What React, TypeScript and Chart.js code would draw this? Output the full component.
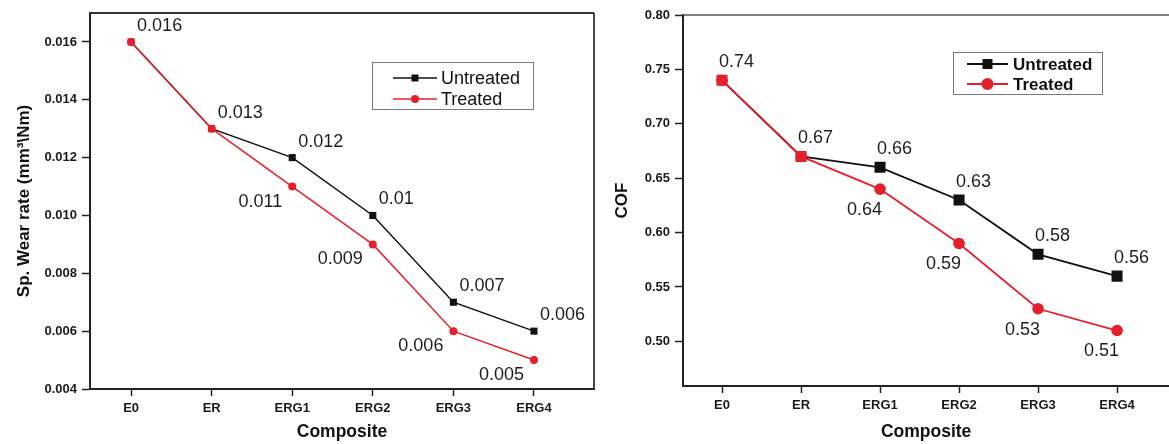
import React, { useEffect, useRef } from "react";
import { Chart, registerables } from "chart.js";

Chart.register(...registerables);

// ---------- data ----------
const categories = ["E0", "ER", "ERG1", "ERG2", "ERG3", "ERG4"];
const seriesNames = ["Untreated", "Treated"];

const wearUntreated = [0.016, 0.013, 0.012, 0.01, 0.007, 0.006];
const wearTreated = [0.016, 0.013, 0.011, 0.009, 0.006, 0.005];
const wearTicks = [0.004, 0.006, 0.008, 0.01, 0.012, 0.014, 0.016];

const cofUntreated = [0.74, 0.67, 0.66, 0.63, 0.58, 0.56];
const cofTreated = [0.74, 0.67, 0.64, 0.59, 0.53, 0.51];
const cofTicks = [0.5, 0.55, 0.6, 0.65, 0.7, 0.75, 0.8];

// which points carry a value label
const untreatedLabelIdx = [0, 1, 2, 3, 4, 5];
const treatedLabelIdx = [2, 3, 4, 5];

// ---------- styles ----------
const FONT = "'Liberation Sans', Arial, Helvetica, sans-serif";
const RED = "#e3202b";
const BLACK = "#111111";

const decorPlugin = {
  id: "decor",
  beforeDatasetsDraw(chart: any, _args: any, opts: any) {
    const { ctx, chartArea: a } = chart;
    ctx.save();
    ctx.strokeStyle = opts.frameColor;
    ctx.lineWidth = opts.frameWidth;
    ctx.beginPath();
    if (opts.sides.includes("top")) {
      ctx.moveTo(a.left, a.top);
      ctx.lineTo(a.right, a.top);
    }
    if (opts.sides.includes("right")) {
      ctx.moveTo(a.right, a.top);
      ctx.lineTo(a.right, a.bottom);
    }
    ctx.stroke();
    ctx.restore();
  },
  afterDatasetsDraw(chart: any, _args: any, opts: any) {
    const { ctx } = chart;
    ctx.save();
    // value labels
    ctx.font = opts.labelFont;
    ctx.fillStyle = "#1e1e1e";
    ctx.textBaseline = "middle";
    opts.labels.forEach((l: any) => {
      const meta = chart.getDatasetMeta(l.dataset);
      const ds = chart.data.datasets[l.dataset];
      l.indices.forEach((i: number) => {
        const p = meta.data[i];
        ctx.textAlign = l.align;
        ctx.fillText(String(ds.data[i].y), p.x + l.dx, p.y + l.dy);
      });
    });
    // legend
    const lg = opts.legend;
    ctx.fillStyle = "#ffffff";
    ctx.fillRect(lg.x, lg.y, lg.w, lg.h);
    ctx.strokeStyle = "#7a7a7a";
    ctx.lineWidth = 1;
    ctx.strokeRect(lg.x + 0.5, lg.y + 0.5, lg.w, lg.h);
    ctx.font = lg.font;
    ctx.textAlign = "left";
    ctx.textBaseline = "middle";
    chart.data.datasets.forEach((ds: any, di: number) => {
      const y = lg.rows[di];
      ctx.strokeStyle = ds.borderColor;
      ctx.lineWidth = ds.borderWidth;
      ctx.beginPath();
      ctx.moveTo(lg.lineX1, y);
      ctx.lineTo(lg.lineX2, y);
      ctx.stroke();
      const mx = (lg.lineX1 + lg.lineX2) / 2;
      ctx.fillStyle = ds.borderColor;
      if (di === 0) {
        const s = lg.square;
        ctx.fillRect(mx - s / 2, y - s / 2, s, s);
      } else {
        ctx.beginPath();
        ctx.arc(mx, y, lg.circle, 0, Math.PI * 2);
        ctx.fill();
      }
      ctx.fillStyle = "#111";
      ctx.fillText(ds.label, lg.textX, y + 1);
    });
    ctx.restore();
  },
};

function makeConfig(p: any) {
  const toPts = (arr: number[]) => arr.map((v, i) => ({ x: i + 1, y: v }));
  const untreatedColors = p.untreated.map((_: number, i: number) => (i < 2 ? RED : BLACK));
  return {
    type: "line",
    data: {
      datasets: [
        {
          label: seriesNames[0],
          data: toPts(p.untreated),
          borderColor: BLACK,
          borderWidth: p.lineWidth,
          pointStyle: "rect",
          pointRadius: p.rectRadius,
          pointBackgroundColor: untreatedColors,
          pointBorderColor: untreatedColors,
          pointBorderWidth: 0,
          order: 2,
        },
        {
          label: seriesNames[1],
          data: toPts(p.treated),
          borderColor: RED,
          borderWidth: p.lineWidth,
          pointStyle: "circle",
          pointRadius: p.circleRadius,
          pointBackgroundColor: RED,
          pointBorderColor: RED,
          pointBorderWidth: 0,
          order: 1,
        },
      ],
    },
    options: {
      responsive: false,
      animation: false,
      events: [],
      layout: { padding: p.padding },
      plugins: {
        legend: { display: false },
        tooltip: { enabled: false },
        decor: {
          sides: p.sides,
          frameColor: p.frameColor,
          frameWidth: p.frameWidth,
          labelFont: `18px ${FONT}`,
          labels: [
            { dataset: 0, indices: untreatedLabelIdx, ...p.untreatedLabel },
            { dataset: 1, indices: treatedLabelIdx, ...p.treatedLabel },
          ],
          legend: p.legend,
        },
      },
      scales: {
        x: {
          type: "linear",
          min: p.xMin,
          max: p.xMax,
          afterBuildTicks: (s: any) => {
            s.ticks = categories.map((_, i) => ({ value: i + 1 }));
          },
          afterFit: (s: any) => {
            s.height = p.xAxisHeight;
            s.paddingLeft = 0;
            s.paddingRight = 0;
          },
          ticks: {
            callback: (v: any) => categories[Math.round(Number(v)) - 1] ?? "",
            font: { family: FONT, size: 13, weight: "bold" },
            color: "#1a1a1a",
            padding: 5,
            autoSkip: false,
            maxRotation: 0,
          },
          grid: { drawOnChartArea: false, drawTicks: true, tickLength: 7, tickColor: "#222", tickWidth: 1.5 },
          border: { display: true, color: "#222", width: 2 },
          title: {
            display: true,
            text: "Composite",
            font: { family: FONT, size: 17.5, weight: "bold" },
            color: "#111",
            padding: { top: 0, bottom: 1 },
          },
        },
        y: {
          type: "linear",
          min: p.yMin,
          max: p.yMax,
          afterBuildTicks: (s: any) => {
            s.ticks = p.yTicks.map((v: number) => ({ value: v }));
          },
          afterFit: (s: any) => {
            s.width = p.yAxisWidth;
            s.paddingTop = 0;
            s.paddingBottom = 0;
          },
          ticks: {
            callback: (v: any) => Number(v).toFixed(p.decimals),
            font: { family: FONT, size: 13, weight: "bold" },
            color: "#1a1a1a",
            padding: 5,
          },
          grid: { drawOnChartArea: false, drawTicks: true, tickLength: 8, tickColor: "#222", tickWidth: 1.5 },
          border: { display: true, color: "#222", width: 2 },
          title: {
            display: true,
            text: p.yTitle,
            font: { family: FONT, size: 17, weight: "bold" },
            color: "#111",
            padding: { top: p.yTitlePad, bottom: 0 },
          },
        },
      },
    },
    plugins: [decorPlugin],
  };
}

function ChartCanvas({ config, width, height, left }: any) {
  const ref = useRef<HTMLCanvasElement | null>(null);
  useEffect(() => {
    if (!ref.current) return;
    const chart = new Chart(ref.current, config);
    return () => chart.destroy();
  }, []);
  return (
    <canvas
      ref={ref}
      width={width}
      height={height}
      style={{ position: "absolute", left, top: 0, width, height }}
    />
  );
}

const leftConfig = makeConfig({
  untreated: wearUntreated,
  treated: wearTreated,
  yTicks: wearTicks,
  yMin: 0.004,
  yMax: 0.017,
  xMin: 0.49,
  xMax: 6.745,
  decimals: 3,
  yTitle: "Sp. Wear rate (mm³\\Nm)",
  yTitlePad: 14,
  padding: { top: 13, right: 6, left: 0, bottom: 0 },
  yAxisWidth: 90,
  xAxisHeight: 55,
  lineWidth: 1.5,
  rectRadius: 5,
  circleRadius: 4,
  sides: ["top", "right"],
  frameColor: "#333",
  frameWidth: 1.8,
  untreatedLabel: { dx: 6, dy: -16, align: "left" },
  treatedLabel: { dx: -10, dy: 15, align: "right" },
  legend: {
    x: 372, y: 62, w: 161, h: 47,
    rows: [78, 99],
    lineX1: 393, lineX2: 437, textX: 441,
    font: `18px ${FONT}`,
    square: 7, circle: 4,
  },
});

const rightConfig = makeConfig({
  untreated: cofUntreated,
  treated: cofTreated,
  yTicks: cofTicks,
  yMin: 0.459,
  yMax: 0.8,
  xMin: 0.506,
  xMax: 6.66,
  decimals: 2,
  yTitle: "COF",
  yTitlePad: 12,
  padding: { top: 15, right: 0, left: 0, bottom: 0 },
  yAxisWidth: 83,
  xAxisHeight: 58,
  lineWidth: 1.8,
  rectRadius: 7.8,
  circleRadius: 5.8,
  sides: ["top"],
  frameColor: "#555",
  frameWidth: 1.5,
  untreatedLabel: { dx: -3, dy: -18, align: "left" },
  treatedLabel: { dx: 2, dy: 21, align: "right" },
  legend: {
    x: 353, y: 52, w: 149, h: 42,
    rows: [64, 84],
    lineX1: 367, lineX2: 408, textX: 413,
    font: `bold 17px ${FONT}`,
    square: 10, circle: 6,
  },
});

export default function App() {
  return (
    <div
      style={{
        position: "absolute",
        left: 0,
        top: 0,
        width: 1169,
        height: 444,
        overflow: "hidden",
        background: "#fff",
      }}
    >
      <ChartCanvas config={leftConfig} width={600} height={444} left={0} />
      <ChartCanvas config={rightConfig} width={577} height={444} left={600} />
    </div>
  );
}
